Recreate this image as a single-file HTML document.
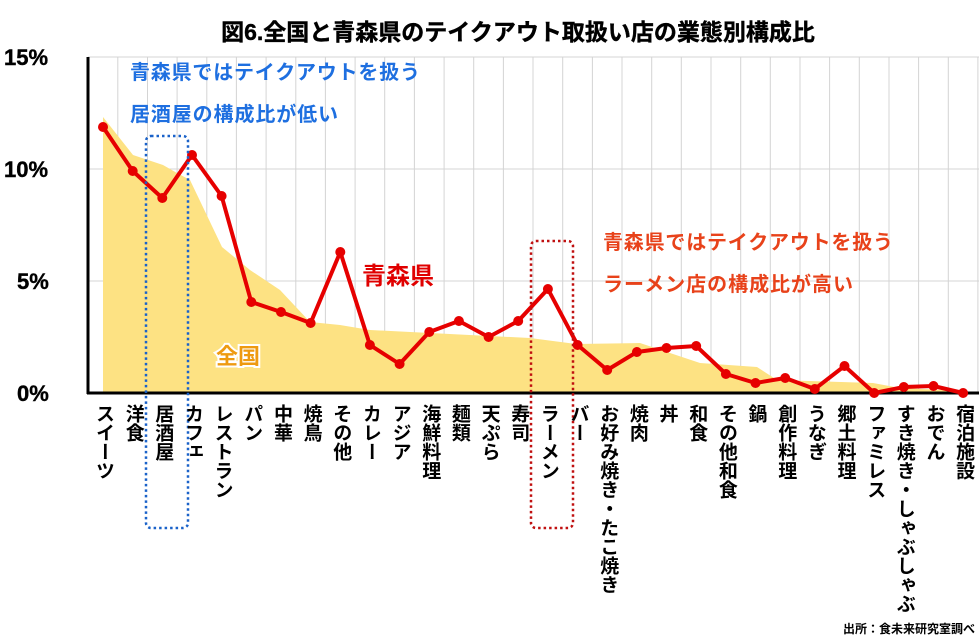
<!DOCTYPE html>
<html><head><meta charset="utf-8"><style>
body{margin:0;background:#fff;width:979px;height:639px;overflow:hidden;font-family:"Liberation Sans","Noto Sans CJK JP",sans-serif;}
svg text{font-family:"Liberation Sans","Noto Sans CJK JP",sans-serif;font-weight:bold;}
.lab{position:absolute;top:404px;writing-mode:vertical-rl;font-size:19px;font-weight:bold;color:#000;line-height:22px;}
</style></head><body>
<svg width="979" height="639" style="position:absolute;left:0;top:0">
<text x="518" y="40" font-size="23" text-anchor="middle" stroke="#000" stroke-width="0.4">図6.全国と青森県のテイクアウト取扱い店の業態別構成比</text>
<g stroke="#d4d4d4" stroke-width="1">
<line x1="88" y1="57" x2="979" y2="57"/><line x1="88" y1="169" x2="979" y2="169"/><line x1="88" y1="281" x2="979" y2="281"/>
</g>
<g id="vg" stroke="#d4d4d4" stroke-width="1"></g>
<polygon fill="#fde283" points="103,393 103,117 133,155 163,165 177,173 190,180 222,247 250,270 280,290 310,322 340,325 370,330 430,333 530,338 576,344 640,343 700,363 757,367 777,380 873,383 900,388 964,391 964,393"/>
<line x1="88" y1="57" x2="88" y2="394" stroke="#000" stroke-width="3"/>
<line x1="87" y1="393" x2="979" y2="393" stroke="#000" stroke-width="3"/>
<g font-size="22" fill="#000" stroke="#000" stroke-width="0.4">
<text x="4" y="65">15%</text><text x="4" y="177">10%</text><text x="17" y="289">5%</text><text x="17" y="401">0%</text>
</g>
<polyline id="rl" fill="none" stroke="#e60000" stroke-width="4" stroke-linejoin="round"/>
<g id="dots" fill="#e60000"></g>
<rect x="146" y="136" width="42" height="392" rx="5" fill="none" stroke="#1a62c9" stroke-width="2.5" stroke-dasharray="2.5,3"/>
<rect x="531" y="241" width="42" height="287" rx="5" fill="none" stroke="#c01010" stroke-width="2.5" stroke-dasharray="2.5,3"/>
<g font-size="20" fill="#1e6fe0"><text x="130" y="79" textLength="290">青森県ではテイクアウトを扱う</text><text x="130" y="121" textLength="208">居酒屋の構成比が低い</text></g>
<g font-size="20" fill="#e8421a"><text x="603" y="249" textLength="290">青森県ではテイクアウトを扱う</text><text x="603" y="291" textLength="250">ラーメン店の構成比が高い</text></g>
<text x="362" y="284" font-size="24" fill="#e00000">青森県</text>
<text x="216" y="364" font-size="22" fill="#ee9a10" stroke="#fff" stroke-width="4" paint-order="stroke">全国</text>
<text x="975" y="633" font-size="12" text-anchor="end">出所：食未来研究室調べ</text>
</svg>
<div id="labs"></div>
<script>
var ys=[127,171,198,155,196,302,312,323,252,345,364,332,321,337,321,289,345,370,352,348,346,374,383,378,389,366,393,387,386,393];
var names=["スイーツ","洋食","居酒屋","カフェ","レストラン","パン","中華","焼鳥","その他","カレー","アジア","海鮮料理","麺類","天ぷら","寿司","ラーメン","バー","お好み焼き・たこ焼き","焼肉","丼","和食","その他和食","鍋","創作料理","うなぎ","郷土料理","ファミレス","すき焼き・しゃぶしゃぶ","おでん","宿泊施設"];
var pts=[],d="",h="",vg="";
for(var i=0;i<30;i++){var x=103+i*29.66;pts.push(x.toFixed(1)+","+ys[i]);
d+='<circle cx="'+x.toFixed(1)+'" cy="'+ys[i]+'" r="5"/>';
vg+='<line x1="'+(x+14.8).toFixed(1)+'" y1="57" x2="'+(x+14.8).toFixed(1)+'" y2="393"/>';
h+='<div class="lab" style="left:'+(x-11).toFixed(1)+'px">'+names[i]+'</div>';}
document.getElementById("rl").setAttribute("points",pts.join(" "));
document.getElementById("dots").innerHTML=d;
document.getElementById("vg").innerHTML=vg;
document.getElementById("labs").innerHTML=h;
</script>
</body></html>
